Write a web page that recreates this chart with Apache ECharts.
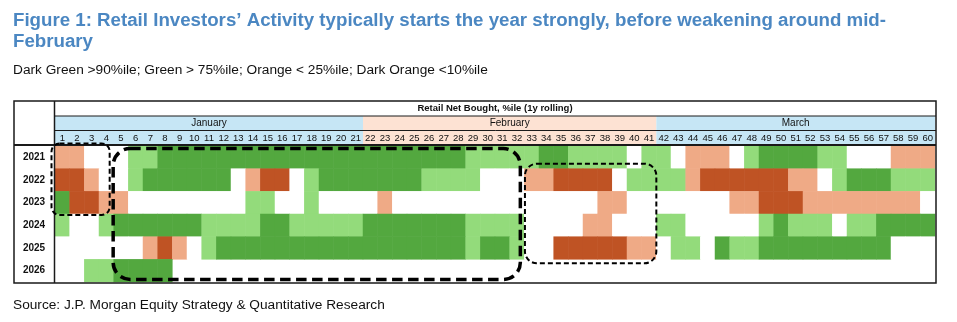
<!DOCTYPE html>
<html><head><meta charset="utf-8">
<script src="https://cdn.jsdelivr.net/npm/echarts@6/dist/echarts.min.js"></script>
<style>html,body{margin:0;padding:0;background:#fff}#c{width:957px;height:322px}</style>
</head><body><div id="c"></div>
<script>
// ---------------- DATA ----------------
const days = ['1','2','3','4','5','6','7','8','9','10','11','12','13','14','15','16','17','18','19','20',
  '21','22','23','24','25','26','27','28','29','30','31','32','33','34','35','36','37','38','39','40',
  '41','42','43','44','45','46','47','48','49','50','51','52','53','54','55','56','57','58','59','60'];
const years = ['2021','2022','2023','2024','2025','2026'];
const months = ['January','February','March'];
const monthFirstDay = ['1','22','42'];
const monthLastDay = ['21','41','60'];
// codes: 2 = >90%ile, 1 = >75%ile, 0 = neutral, -1 = <25%ile, -2 = <10%ile
const r2021 = [-1,-1,0,0,0,1,1,2,2,2,2,2,2,2,2,2,2,2,2,2,2,2,2,2,2,2,2,2,1,1,1,1,1,2,2,1,1,1,1,0,1,1,0,-1,-1,-1,0,1,2,2,2,2,1,1,0,0,0,-1,-1,-1];
const r2022 = [-2,-2,-1,0,0,1,2,2,2,2,2,2,0,-1,-2,-2,0,1,2,2,2,2,2,2,2,1,1,1,1,0,0,0,-1,-1,-2,-2,-2,-2,0,1,1,1,1,-1,-2,-2,-2,-2,-2,-2,-1,-1,0,1,2,2,2,1,1,1];
const r2023 = [2,-2,-2,-1,-1,0,0,0,0,0,0,0,0,1,1,0,0,1,0,0,0,0,-1,0,0,0,0,0,0,0,0,0,0,0,0,0,0,-1,-1,0,0,0,0,0,0,0,-1,-1,-2,-2,-2,-1,-1,-1,-1,-1,-1,-1,-1,0];
const r2024 = [1,0,0,1,2,2,2,2,2,2,1,1,1,1,2,2,1,1,1,1,1,2,2,2,2,2,2,2,1,1,1,1,0,0,0,0,-1,-1,0,0,0,1,1,0,0,0,0,0,1,2,1,1,1,0,1,1,2,2,2,2];
const r2025 = [0,0,0,0,0,0,-1,-2,-1,0,1,2,2,2,2,2,2,2,2,2,2,2,2,2,2,2,2,2,1,2,2,1,0,0,-2,-2,-2,-2,-2,-1,-1,0,1,1,0,2,1,1,2,2,2,2,2,2,2,2,2,0,0,0];
const r2026 = [0,0,1,1,2,2,2,2];
const rows = [r2021, r2022, r2023, r2024, r2025, r2026];

const titleText = 'Figure 1: Retail Investors\u2019 Activity typically starts the year strongly, before weakening around mid-\nFebruary';
const subtitleText = 'Dark Green >90%ile; Green > 75%ile; Orange < 25%ile; Dark Orange <10%ile';
const headerText = 'Retail Net Bought, %ile (1y rolling)';
const sourceText = 'Source: J.P. Morgan Equity Strategy & Quantitative Research';

// ---------------- STYLE ----------------
const FONT = 'Liberation Sans, Arial, sans-serif';
const colorDarkGreen = '#53a83f', colorGreen = '#93db7b', colorOrange = '#efaa86', colorDarkOrange = '#bf5324';
const bandColors = ['#c6e6f5', '#fde2d3', '#c6e6f5'];
const G = {left: 55, right: 22, top: 146, bottom: 40};

const heatData = [];
rows.forEach((row, yi) => row.forEach((v, di) => { heatData.push([days[di], years[yi], v]); }));
const monthData = months.map((m, i) => [days.indexOf(monthFirstDay[i]), days.indexOf(monthLastDay[i]), i]);

const chart = echarts.init(document.getElementById('c'), null, {renderer: 'canvas'});
chart.setOption({
  animation: false,
  backgroundColor: '#fff',
  textStyle: {fontFamily: FONT},
  title: [
    {text: titleText, left: 13, top: 11, padding: 0, textStyle: {fontFamily: FONT, fontSize: 18.7, fontWeight: 'bold', color: '#4b87c2', lineHeight: 20.5}},
    {text: subtitleText, left: 13, top: 63, padding: 0, textStyle: {fontFamily: FONT, fontSize: 13.7, fontWeight: 'normal', color: '#111', lineHeight: 15}},
    {text: sourceText, left: 13, top: 297.5, padding: 0, textStyle: {fontFamily: FONT, fontSize: 13.7, fontWeight: 'normal', color: '#111', lineHeight: 15}}
  ],
  grid: [
    {left: G.left, right: G.right, top: G.top, bottom: G.bottom, containLabel: false},
    {left: G.left, right: G.right, top: 116, height: 29, containLabel: false}
  ],
  xAxis: [
    {type: 'category', data: days, gridIndex: 0, position: 'top', z: 10,
      axisLine: {show: false}, axisTick: {show: false}, splitLine: {show: false},
      axisLabel: {interval: 0, margin: 3, fontSize: 9.5, color: '#111', fontFamily: FONT}},
    {type: 'category', data: days, gridIndex: 1, show: false}
  ],
  yAxis: [
    {type: 'category', data: years, gridIndex: 0, inverse: true,
      axisLine: {show: false}, axisTick: {show: false}, splitLine: {show: false},
      axisLabel: {margin: 21, align: 'center', fontSize: 10, fontWeight: 'bold', color: '#111', fontFamily: FONT}},
    {type: 'value', gridIndex: 1, min: 0, max: 1, show: false}
  ],
  visualMap: {
    type: 'piecewise', show: false, dimension: 2, seriesIndex: 0,
    pieces: [
      {value: -2, color: colorDarkOrange},
      {value: -1, color: colorOrange},
      {value: 0, color: '#ffffff'},
      {value: 1, color: colorGreen},
      {value: 2, color: colorDarkGreen}
    ]
  },
  series: [
    {type: 'heatmap', xAxisIndex: 0, yAxisIndex: 0, data: heatData, itemStyle: {borderWidth: 0}, emphasis: {disabled: true}},
    {type: 'custom', xAxisIndex: 1, yAxisIndex: 1, data: monthData, encode: {x: [0, 1]}, z: 1, silent: true,
      renderItem: function (params, api) {
        const w = api.size([1, 0])[0];
        const x0 = api.coord([api.value(0), 0])[0] - w / 2;
        const x1 = api.coord([api.value(1), 0])[0] + w / 2;
        const cs = params.coordSys;
        const ci = api.value(2);
        return {type: 'group', children: [
          {type: 'rect', shape: {x: x0, y: cs.y, width: x1 - x0, height: cs.height}, style: {fill: bandColors[ci]}},
          {type: 'text', style: {text: months[ci], x: (x0 + x1) / 2, y: cs.y + 7.5, align: 'center', verticalAlign: 'middle',
            fontSize: 10, fontFamily: FONT, fill: '#111'}}
        ]};
      }}
  ]
});

// frame lines and annotation boxes, positioned from the axes
function xEdge(day, side) {
  const c = chart.convertToPixel({xAxisIndex: 0}, day);
  const cw = chart.convertToPixel({xAxisIndex: 0}, days[1]) - chart.convertToPixel({xAxisIndex: 0}, days[0]);
  return c + side * cw / 2;
}
function yEdge(yr, side) {
  const c = chart.convertToPixel({yAxisIndex: 0}, yr);
  const rh = chart.convertToPixel({yAxisIndex: 0}, years[1]) - chart.convertToPixel({yAxisIndex: 0}, years[0]);
  return c + side * rh / 2;
}
const gx0 = xEdge(days[0], -1), gx1 = xEdge(days[59], 1);
const gy0 = yEdge(years[0], -1), gy1 = yEdge(years[5], 1);
const frameL = 14, frameT = 101, frameR = gx1 + 1, frameB = gy1 + 1;
const lineStyle = (w) => ({stroke: '#1a1a1a', lineWidth: w});
const graphics = [
  {type: 'rect', z: 50, shape: {x: frameL, y: frameT, width: frameR - frameL, height: frameB - frameT}, style: {fill: null, stroke: '#1a1a1a', lineWidth: 1.5}},
  {type: 'line', z: 50, shape: {x1: gx0 - 0.5, y1: frameT, x2: gx0 - 0.5, y2: frameB}, style: lineStyle(1.5)},
  {type: 'line', z: 50, shape: {x1: gx0 - 0.5, y1: 116, x2: frameR, y2: 116}, style: lineStyle(1)},
  {type: 'line', z: 50, shape: {x1: gx0 - 0.5, y1: 130.5, x2: frameR, y2: 130.5}, style: lineStyle(1)},
  {type: 'line', z: 50, shape: {x1: frameL, y1: 145, x2: frameR, y2: 145}, style: lineStyle(2)},
  {type: 'text', z: 50, style: {text: headerText, x: (gx0 + gx1) / 2, y: 108.5, align: 'center', verticalAlign: 'middle',
    fontSize: 9.5, fontWeight: 'bold', fontFamily: FONT, fill: '#111'}}
];
const boxes = [
  {c0: '1', c1: '4', r0: '2021', r1: '2023', dl: -3.5, dr: -4, dt: -2.5, db: 1, r: 8, lw: 2, dash: [5, 3]},
  {c0: '5', c1: '32', r0: '2021', r1: '2026', dl: -0.5, dr: -4, dt: 2.5, db: -2.5, r: 17, lw: 3.5, dash: [10.5, 5.5]},
  {c0: '33', c1: '41', r0: '2022', r1: '2025', dl: 0.6, dr: 0, dt: -5, db: 4, r: 12, lw: 2, dash: [5, 3]}
];
boxes.forEach(b => {
  const x0 = xEdge(b.c0, -1) + b.dl, x1 = xEdge(b.c1, 1) + b.dr;
  const y0 = yEdge(b.r0, -1) + b.dt, y1 = yEdge(b.r1, 1) + b.db;
  graphics.push({type: 'rect', z: 60, shape: {x: x0, y: y0, width: x1 - x0, height: y1 - y0, r: b.r},
    style: {fill: null, stroke: '#000', lineWidth: b.lw, lineDash: b.dash}});
});
chart.setOption({graphic: graphics});
</script></body></html>
